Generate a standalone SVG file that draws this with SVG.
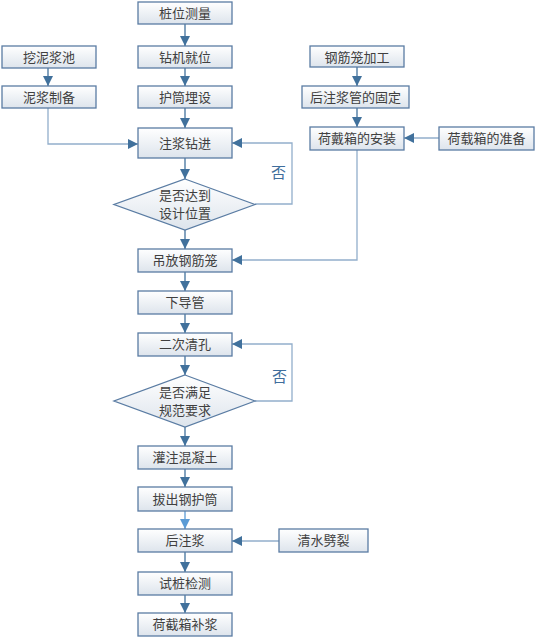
<svg xmlns="http://www.w3.org/2000/svg" width="535" height="639" viewBox="0 0 535 639">
<defs>
<linearGradient id="g" x1="0" y1="0" x2="0" y2="1">
<stop offset="0" stop-color="#ffffff"/>
<stop offset="1" stop-color="#dde4ec"/>
</linearGradient>
<marker id="a" viewBox="0 0 10 10" refX="10" refY="5" markerWidth="10" markerHeight="10" markerUnits="userSpaceOnUse" orient="auto">
<path d="M0,0 L10,5 L0,10 Z" fill="#41719c"/>
</marker>
<marker id="b" viewBox="0 0 10 10" refX="10" refY="5" markerWidth="10" markerHeight="10" markerUnits="userSpaceOnUse" orient="auto">
<path d="M0,0 L10,5 L0,10 Z" fill="#5b9bd5"/>
</marker>
<style>
.n rect,.n polygon{fill:url(#g);stroke:#5a7ca3;stroke-width:1.3}
.n text{font-family:"Noto Sans CJK SC","Liberation Sans",sans-serif;font-size:13px;fill:#404040;text-anchor:middle}
.c path{fill:none;stroke-width:1.3}
.d{stroke:#41719c;marker-end:url(#a)}
.l{stroke:#92aecb;marker-end:url(#a)}
.no{font-family:"Noto Sans CJK SC","Liberation Sans",sans-serif;font-size:15px;fill:#3f6e9c}
</style>
</defs>
<rect width="535" height="639" fill="#ffffff"/>
<g class="c">
<path class="d" d="M185,24 V46"/>
<path class="d" d="M185,68 V86"/>
<path class="d" d="M185,108 V128"/>
<path class="d" d="M48,68 V86"/>
<path class="l" d="M48,108 V144 H138"/>
<path class="d" d="M185,158 V179"/>
<path class="l" d="M255,204 H292 V143 H232"/>
<path class="d" d="M185,230 V249"/>
<path class="d" d="M357,67 V86"/>
<path class="d" d="M357,108 V127"/>
<path class="l" d="M439,138 H404"/>
<path class="l" d="M357,150 V260 H232"/>
<path class="d" d="M185,272 V291"/>
<path class="d" d="M185,314 V333"/>
<path class="d" d="M185,356 V375"/>
<path class="l" d="M255,401 H292 V344 H232"/>
<path class="d" d="M185,427 V446"/>
<path class="d" d="M185,469 V487"/>
<path style="stroke:#5b9bd5;marker-end:url(#b)" d="M185,511 V529"/>
<path class="l" d="M279,541 H232"/>
<path class="d" d="M185,552 V572"/>
<path class="d" d="M185,595 V613"/>
</g>
<text class="no" x="271" y="178">否</text>
<text class="no" x="272" y="382">否</text>
<g id="n1" class="n"><rect x="138" y="2" width="94" height="22"/><text x="185" y="18">桩位测量</text></g>
<g id="n2" class="n"><rect x="138" y="46" width="94" height="22"/><text x="185" y="62">钻机就位</text></g>
<g id="n3" class="n"><rect x="138" y="86" width="94" height="22"/><text x="185" y="102">护筒埋设</text></g>
<g id="n4" class="n"><rect x="2" y="46" width="94" height="22"/><text x="49" y="62">挖泥浆池</text></g>
<g id="n5" class="n"><rect x="2" y="86" width="94" height="22"/><text x="49" y="102">泥浆制备</text></g>
<g id="n6" class="n"><rect x="138" y="128" width="94" height="30"/><text x="185" y="148">注浆钻进</text></g>
<g id="n7" class="n"><polygon points="185,179 255,204.5 185,230 114,204.5"/><text x="185" y="200">是否达到</text><text x="185" y="218">设计位置</text></g>
<g id="n8" class="n"><rect x="310" y="46" width="94" height="21"/><text x="357" y="62">钢筋笼加工</text></g>
<g id="n9" class="n"><rect x="302" y="86" width="107" height="22"/><text x="355.5" y="102">后注浆管的固定</text></g>
<g id="n10" class="n"><rect x="310" y="127" width="94" height="23"/><text x="357" y="143">荷戴箱的安装</text></g>
<g id="n11" class="n"><rect x="439" y="127" width="95" height="23"/><text x="486.5" y="143">荷载箱的准备</text></g>
<g id="n12" class="n"><rect x="138" y="249" width="94" height="23"/><text x="185" y="265">吊放钢筋笼</text></g>
<g id="n13" class="n"><rect x="138" y="291" width="94" height="23"/><text x="185" y="307">下导管</text></g>
<g id="n14" class="n"><rect x="138" y="333" width="94" height="23"/><text x="185" y="349">二次清孔</text></g>
<g id="n15" class="n"><polygon points="185,375 255,401 185,427 114,401"/><text x="185" y="397">是否满足</text><text x="185" y="415">规范要求</text></g>
<g id="n16" class="n"><rect x="138" y="446" width="94" height="23"/><text x="185" y="462">灌注混凝土</text></g>
<g id="n17" class="n"><rect x="138" y="487" width="94" height="24"/><text x="185" y="504">拔出钢护筒</text></g>
<g id="n18" class="n"><rect x="138" y="529" width="94" height="23"/><text x="185" y="545">后注浆</text></g>
<g id="n19" class="n"><rect x="279" y="529" width="89" height="23"/><text x="323.5" y="545">清水劈裂</text></g>
<g id="n20" class="n"><rect x="138" y="572" width="94" height="23"/><text x="185" y="588">试桩检测</text></g>
<g id="n21" class="n"><rect x="138" y="613" width="94" height="23"/><text x="185" y="629">荷截箱补浆</text></g>
</svg>
